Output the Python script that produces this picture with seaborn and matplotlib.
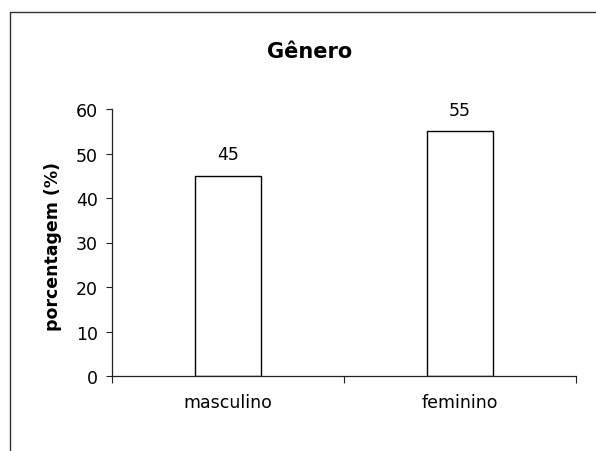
import matplotlib
matplotlib.use("Agg")
import matplotlib.pyplot as plt
from matplotlib.lines import Line2D
import seaborn as sns
import pandas as pd

categories = ["masculino", "feminino"]
values = [45, 55]
title = "Gênero"
ylabel = "porcentagem (%)"
yticks = [0, 10, 20, 30, 40, 50, 60]

sns.set_style("ticks")
plt.rcParams['font.family'] = ['DejaVu Sans']
plt.rcParams['text.color'] = 'black'
plt.rcParams['axes.labelcolor'] = 'black'

W, H = 596, 452
fig = plt.figure(figsize=(W / 100, H / 100), dpi=100)
fig.patch.set_facecolor("white")

ax = fig.add_axes([112 / W, 1 - 377 / H, 464 / W, 267 / H])
df = pd.DataFrame({"cat": categories, "val": values})
sns.barplot(data=df, x="cat", y="val", color="white", edgecolor="black",
            linewidth=1.0, width=0.285, saturation=1, ax=ax)

ax.set_xlim(-0.5, 1.5)
ax.set_ylim(0, 60)
ax.set_yticks(yticks)
ax.set_xlabel("")
ax.set_ylabel(ylabel, fontsize=12.5, fontweight="bold", color="black")
ax.yaxis.set_label_coords(-0.108, 0.49)

for s in ["top", "right"]:
    ax.spines[s].set_visible(False)
for s in ["left", "bottom"]:
    ax.spines[s].set_linewidth(0.9)
    ax.spines[s].set_color("#222222")

ax.tick_params(axis="y", direction="out", length=4, width=0.8, pad=6,
               labelsize=12.5, colors="#222222", labelcolor="black")
ax.tick_params(axis="x", which="major", length=0, pad=12, labelsize=12.5,
               labelcolor="black")
ax.set_xticks([-0.5, 0.5, 1.5], minor=True)
ax.tick_params(axis="x", which="minor", direction="out", length=5, width=0.8,
               colors="#222222")

for c in ax.containers:
    ax.bar_label(c, fmt="%d", padding=9, fontsize=12.5, color="black")

fig.text(310 / W, 1 - 52 / H, title, ha="center", va="center",
         fontsize=15, fontweight="bold", color="black")

# outer frame (scanned border: left and top edges)
fig.add_artist(Line2D([10 / W, 10 / W, 1.0], [0.0, 1 - 13 / H, 1 - 13 / H],
                      transform=fig.transFigure, color="#333333", linewidth=1.0))

fig.savefig("out.png", dpi=100, facecolor="white")
